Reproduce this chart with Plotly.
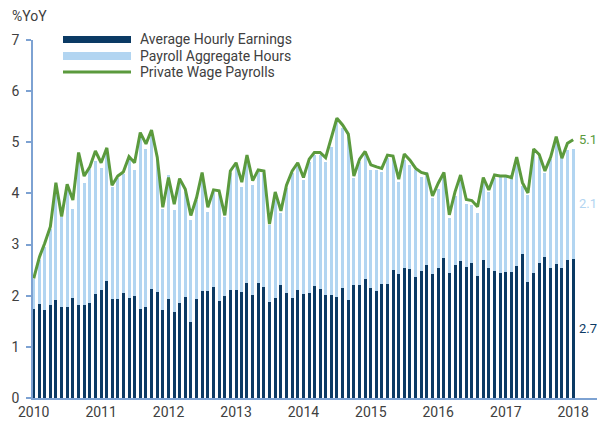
import plotly.graph_objects as go
import pandas as pd

months = pd.date_range("2010-01-01", "2018-01-01", freq="MS").strftime("%Y-%m-%d").tolist()

avg_hourly_earnings = [
    1.74, 1.83, 1.73, 1.82, 1.92, 1.78, 1.77, 1.95, 1.81, 1.81, 1.85, 2.03,
    2.11, 2.29, 1.93, 1.93, 2.05, 1.96, 2.00, 1.74, 1.78, 2.13, 2.08, 1.72,
    1.94, 1.68, 1.85, 1.98, 1.49, 1.93, 2.09, 2.09, 2.17, 1.90, 1.99, 2.11,
    2.11, 2.07, 2.24, 2.02, 2.24, 2.18, 1.88, 1.96, 2.21, 2.05, 1.96, 2.11,
    2.03, 2.06, 2.19, 2.14, 2.01, 2.01, 1.97, 2.16, 1.92, 2.21, 2.20, 2.32,
    2.15, 2.10, 2.22, 2.22, 2.50, 2.42, 2.54, 2.52, 2.37, 2.48, 2.60, 2.42,
    2.54, 2.74, 2.45, 2.61, 2.68, 2.56, 2.63, 2.39, 2.70, 2.54, 2.48, 2.44,
    2.47, 2.46, 2.59, 2.81, 2.26, 2.45, 2.64, 2.76, 2.55, 2.62, 2.54, 2.70,
    2.72,
]

payroll_aggregate_hours = [
    0.58, 0.87, 1.23, 1.48, 2.24, 1.75, 2.33, 1.74, 2.94, 2.40, 2.63, 2.60,
    2.38, 2.56, 2.20, 2.37, 2.33, 2.69, 2.46, 3.41, 3.09, 3.07, 2.57, 1.98,
    2.42, 2.00, 2.40, 2.04, 1.99, 1.95, 2.27, 1.55, 1.86, 2.12, 1.54, 2.29,
    2.44, 2.06, 2.46, 2.14, 2.18, 2.22, 1.50, 2.02, 1.40, 2.05, 2.44, 2.44,
    2.23, 2.56, 2.56, 2.61, 2.61, 2.90, 3.43, 3.12, 3.18, 2.09, 2.42, 2.43,
    2.31, 2.35, 2.20, 2.48, 2.18, 1.80, 2.11, 2.03, 2.09, 1.85, 1.82, 1.50,
    1.54, 1.61, 1.06, 1.34, 1.60, 1.23, 1.14, 1.22, 1.55, 1.49, 1.82, 1.92,
    1.85, 1.87, 2.03, 1.33, 1.71, 2.37, 2.08, 1.64, 2.13, 2.43, 2.21, 2.14,
    2.15,
]

private_wage_payrolls = [
    2.34, 2.76, 3.02, 3.35, 4.21, 3.55, 4.18, 3.87, 4.80, 4.34, 4.52, 4.83,
    4.60, 4.89, 4.16, 4.34, 4.42, 4.72, 4.60, 5.19, 4.97, 5.24, 4.71, 3.73,
    4.31, 3.79, 4.29, 4.08, 3.57, 3.92, 4.41, 3.73, 4.07, 4.05, 3.57, 4.44,
    4.60, 4.22, 4.75, 4.25, 4.46, 4.44, 3.40, 4.03, 3.66, 4.16, 4.44, 4.60,
    4.31, 4.67, 4.80, 4.80, 4.70, 5.08, 5.47, 5.34, 5.16, 4.34, 4.67, 4.82,
    4.56, 4.52, 4.49, 4.75, 4.73, 4.28, 4.77, 4.65, 4.49, 4.41, 4.38, 3.95,
    4.20, 4.41, 3.58, 4.03, 4.36, 3.88, 3.86, 3.74, 4.31, 4.07, 4.36, 4.34,
    4.34, 4.31, 4.71, 4.21, 4.01, 4.87, 4.76, 4.44, 4.71, 5.11, 4.69, 4.98,
    5.05,
]

series_names = ["Average Hourly Earnings", "Payroll Aggregate Hours", "Private Wage Payrolls"]
end_labels = ["2.7", "2.1", "5.1"]
year_ticks = [f"{y}-01-01" for y in range(2010, 2019)]
year_labels = [str(y) for y in range(2010, 2019)]

DARK = "#0b3a64"
LIGHT = "#b2d5f1"
GREEN = "#5b9a3d"
AXIS = "#7da2d2"
TEXT = "#404040"
FONT = "Roboto, sans-serif"
FS = 14

W, H = 597, 423
ML, MR, MT, MB = 33, 0, 40, 25
PW, PH = W - ML - MR, H - MT - MB


def px(x):
    return (x - ML) / PW


def py(y):
    return (H - MB - y) / PH


fig = go.Figure()
fig.add_trace(go.Bar(x=months, y=avg_hourly_earnings, name=series_names[0],
                     marker=dict(color=DARK, line_width=0), showlegend=False))
fig.add_trace(go.Bar(x=months, y=payroll_aggregate_hours, name=series_names[1],
                     marker=dict(color=LIGHT, line_width=0), showlegend=False))
fig.add_trace(go.Scatter(x=months, y=private_wage_payrolls, name=series_names[2],
                         mode="lines", line=dict(color=GREEN, width=3), showlegend=False))

# Custom legend with wide swatches as in the reference
leg_x0, leg_x1 = 63, 131
fig.add_shape(type="rect", xref="paper", yref="paper",
              x0=px(leg_x0), x1=px(leg_x1), y0=py(43), y1=py(36),
              fillcolor=DARK, line_width=0)
fig.add_shape(type="rect", xref="paper", yref="paper",
              x0=px(leg_x0), x1=px(leg_x1), y0=py(60), y1=py(52),
              fillcolor=LIGHT, line_width=0)
fig.add_shape(type="line", xref="paper", yref="paper",
              x0=px(leg_x0), x1=px(leg_x1), y0=py(72), y1=py(72),
              line=dict(color=GREEN, width=3))
for name, yc in zip(series_names, [39.5, 56, 72]):
    fig.add_annotation(text=name, xref="paper", yref="paper", x=px(138), y=py(yc),
                       xanchor="left", yanchor="middle", showarrow=False,
                       font=dict(size=FS, color=TEXT, family=FONT))

fig.add_annotation(text="%YoY", xref="paper", yref="paper", x=px(10), y=py(16),
                   xanchor="left", yanchor="middle", showarrow=False,
                   font=dict(size=FS, color=TEXT, family=FONT))

# End-of-series labels
last = months[-1]
EFS = 13
fig.add_annotation(text=end_labels[2], x=last, y=private_wage_payrolls[-1], xshift=4,
                   xanchor="left", yanchor="middle", showarrow=False,
                   font=dict(size=EFS, color=GREEN, family=FONT))
fig.add_annotation(text=end_labels[1], x=last,
                   y=avg_hourly_earnings[-1] + payroll_aggregate_hours[-1] / 2, xshift=4,
                   xanchor="left", yanchor="middle", showarrow=False,
                   font=dict(size=EFS, color=LIGHT, family=FONT))
fig.add_annotation(text=end_labels[0], x=last, y=avg_hourly_earnings[-1] / 2, xshift=4,
                   xanchor="left", yanchor="middle", showarrow=False,
                   font=dict(size=EFS, color=DARK, family=FONT))

fig.update_layout(
    width=W, height=H,
    margin=dict(l=ML, r=MR, t=MT, b=MB, autoexpand=False),
    barmode="stack", bargap=0.42,
    plot_bgcolor="white", paper_bgcolor="white",
    font=dict(family=FONT, size=FS, color=TEXT),
)
fig.update_xaxes(type="date", range=["2009-12-28", "2018-05-10"],
                 tickvals=year_ticks, ticktext=year_labels,
                 showline=True, linecolor=AXIS, linewidth=1.5,
                 showgrid=False, zeroline=False, ticks="", automargin=False,
                 tickfont=dict(size=FS, color=TEXT, family=FONT))
fig.update_yaxes(range=[0, 7], dtick=1, showline=True, linecolor=AXIS, linewidth=1.5,
                 showgrid=False, zeroline=False, ticks="outside", ticklen=5,
                 tickcolor=AXIS, tickwidth=1.5, ticklabelstandoff=4, automargin=False,
                 tickfont=dict(size=FS, color=TEXT, family=FONT))

fig.write_html("out.html", config={"displayModeBar": False},
               post_script="document.body.style.margin='0';document.body.style.overflow='hidden';")
